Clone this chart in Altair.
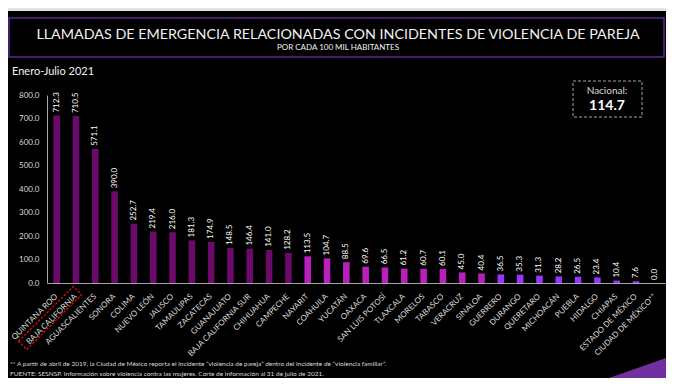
import altair as alt
import pandas as pd

estados = ["QUINTANA ROO", "BAJA CALIFORNIA", "AGUASCALIENTES", "SONORA", "COLIMA",
           "NUEVO LEÓN", "JALISCO", "TAMAULIPAS", "ZACATECAS", "GUANAJUATO",
           "BAJA CALIFORNIA SUR", "CHIHUAHUA", "CAMPECHE", "NAYARIT", "COAHUILA",
           "YUCATÁN", "OAXACA", "SAN LUIS POTOSÍ", "TLAXCALA", "MORELOS", "TABASCO",
           "VERACRUZ", "SINALOA", "GUERRERO", "DURANGO", "QUERETARO", "MICHOACÁN",
           "PUEBLA", "HIDALGO", "CHIAPAS", "ESTADO DE MÉXICO", "CIUDAD DE MÉXICO**"]
valores = [712.3, 710.5, 571.1, 390.0, 252.7, 219.4, 216.0, 181.3, 174.9, 148.5,
           146.4, 141.0, 128.2, 113.5, 104.7, 88.5, 69.6, 66.5, 61.2, 60.7, 60.1,
           45.0, 40.4, 36.5, 35.3, 31.3, 28.2, 26.5, 23.4, 10.4, 7.6, 0.0]
y_ticks = [0, 100, 200, 300, 400, 500, 600, 700, 800]

titulo = "LLAMADAS DE EMERGENCIA RELACIONADAS CON INCIDENTES DE VIOLENCIA DE PAREJA"
subtitulo = "POR CADA 100 MIL HABITANTES"
periodo = "Enero-Julio 2021"
nacional_lbl = "Nacional:"
nacional_val = "114.7"
nota1 = ("** A partir de abril de 2019, la Ciudad de México reporta el incidente "
         "\u201cviolencia de pareja\u201d dentro del incidente de \u201cviolencia familiar\u201d.")
nota2 = ("FUENTE: SESNSP. Información sobre violencia contra las mujeres. "
         "Corte de información al 31 de julio de 2021.")

tri_x = [562, 619]
tri_y = [283, 263]

FONT = "Lato"

df = pd.DataFrame({"estado": estados, "valor": valores})
one = pd.DataFrame({"k": [0]})

xenc = alt.X("estado:N", sort=estados, title=None,
             scale=alt.Scale(paddingInner=0.66, paddingOuter=0.33),
             axis=alt.Axis(labelAngle=315, labelAlign="right", labelBaseline="middle",
                           labelPadding=12, ticks=False, domainColor="#a6a6a6",
                           labelColor="#d9d9d9", labelFontSize=8, labelFont=FONT,
                           labelOverlap=False, grid=False, zindex=1))
yenc = alt.Y("valor:Q", title=None,
             scale=alt.Scale(domain=[0, 800], nice=False),
             axis=alt.Axis(values=y_ticks, format=".1f", ticks=False, grid=False,
                           domainColor="#a6a6a6", labelColor="#d9d9d9",
                           labelFontSize=8, labelFont=FONT, labelPadding=8, zindex=1))

base = alt.Chart(df).transform_calculate(
    grupo="datum.valor >= 120 ? 'a' : (datum.valor >= 40 ? 'b' : 'c')"
)
bars = base.mark_bar().encode(
    x=xenc, y=yenc,
    color=alt.Color("grupo:N", legend=None,
                    scale=alt.Scale(domain=["a", "b", "c"],
                                    range=["#6b0a6b", "#b81fbd", "#9933ff"])),
)
labels = base.mark_text(angle=270, align="left", baseline="middle", dx=3,
                        fontSize=8, color="#ffffff", font=FONT).encode(
    x=alt.X("estado:N", sort=estados, axis=None), y=alt.Y("valor:Q", axis=None),
    text=alt.Text("valor:Q", format=".1f"))

panel = alt.Chart(one).mark_rect(color="#000000").encode(
    x=alt.value(-39), x2=alt.value(619), y=alt.value(-84), y2=alt.value(283))
tbox = alt.Chart(one).mark_rect(filled=False, stroke="#5b2a8c", strokeWidth=1.5).encode(
    x=alt.value(-38), x2=alt.value(617), y=alt.value(-77), y2=alt.value(-38))
t1 = alt.Chart(one).mark_text(fontSize=14.3, font=FONT, color="#f2f2f2",
                              align="center", baseline="middle").encode(
    x=alt.value(291), y=alt.value(-60), text=alt.value(titulo))
t2 = alt.Chart(one).mark_text(fontSize=8, font=FONT, color="#f2f2f2",
                              align="center", baseline="middle").encode(
    x=alt.value(291), y=alt.value(-47), text=alt.value(subtitulo))
t3 = alt.Chart(one).mark_text(fontSize=11, font=FONT, color="#f2f2f2",
                              align="left", baseline="middle").encode(
    x=alt.value(-35), y=alt.value(-23), text=alt.value(periodo))
nbox = alt.Chart(one).mark_rect(filled=False, stroke="#a6a6a6", strokeDash=[3, 2],
                                strokeWidth=1).encode(
    x=alt.value(526), x2=alt.value(595), y=alt.value(-14), y2=alt.value(22))
n1 = alt.Chart(one).mark_text(fontSize=10, font=FONT, color="#d9d9d9",
                              align="center", baseline="middle").encode(
    x=alt.value(560), y=alt.value(-4), text=alt.value(nacional_lbl))
n2 = alt.Chart(one).mark_text(fontSize=14, font=FONT, fontWeight="bold", color="#ffffff",
                              align="center", baseline="middle").encode(
    x=alt.value(560), y=alt.value(11), text=alt.value(nacional_val))
f1 = alt.Chart(one).mark_text(fontSize=6.5, font=FONT, color="#d9d9d9",
                              align="left", baseline="middle").encode(
    x=alt.value(-37), y=alt.value(269), text=alt.value(nota1))
f2 = alt.Chart(one).mark_text(fontSize=6.5, font=FONT, color="#d9d9d9",
                              align="left", baseline="middle").encode(
    x=alt.value(-37), y=alt.value(279), text=alt.value(nota2))

# red dashed highlight box around the "BAJA CALIFORNIA" label (rotated symbol)
caja = alt.Chart(one).mark_point(
    shape="M-1,-0.15L1,-0.15L1,0.15L-1,0.15Z", angle=315, size=6000,
    filled=False, stroke="#e01010", strokeWidth=1.2, strokeDash=[2.5, 1.5], opacity=1,
).encode(x=alt.value(3), y=alt.value(223))

tri_df = pd.DataFrame({"px": tri_x, "py": tri_y})
tri = alt.Chart(tri_df).mark_area(color="#7030a0").encode(
    x=alt.X("px:Q", scale=None, axis=None),
    y=alt.Y("py:Q", scale=None, axis=None, stack=None),
    y2=alt.value(283))

chart = alt.layer(panel, tbox, t1, t2, t3, nbox, n1, n2, f1, f2, tri, bars, labels, caja).resolve_scale(
    x="independent", y="independent"
).properties(
    width=618, height=188,
    autosize=alt.AutoSizeParams(type="none"),
    padding={"left": 39, "top": 87, "right": 1, "bottom": 95},
    background="#e6e2e8",
).configure_view(stroke=None)

chart.save("out.html", embed_options={"renderer": "svg", "actions": False})
